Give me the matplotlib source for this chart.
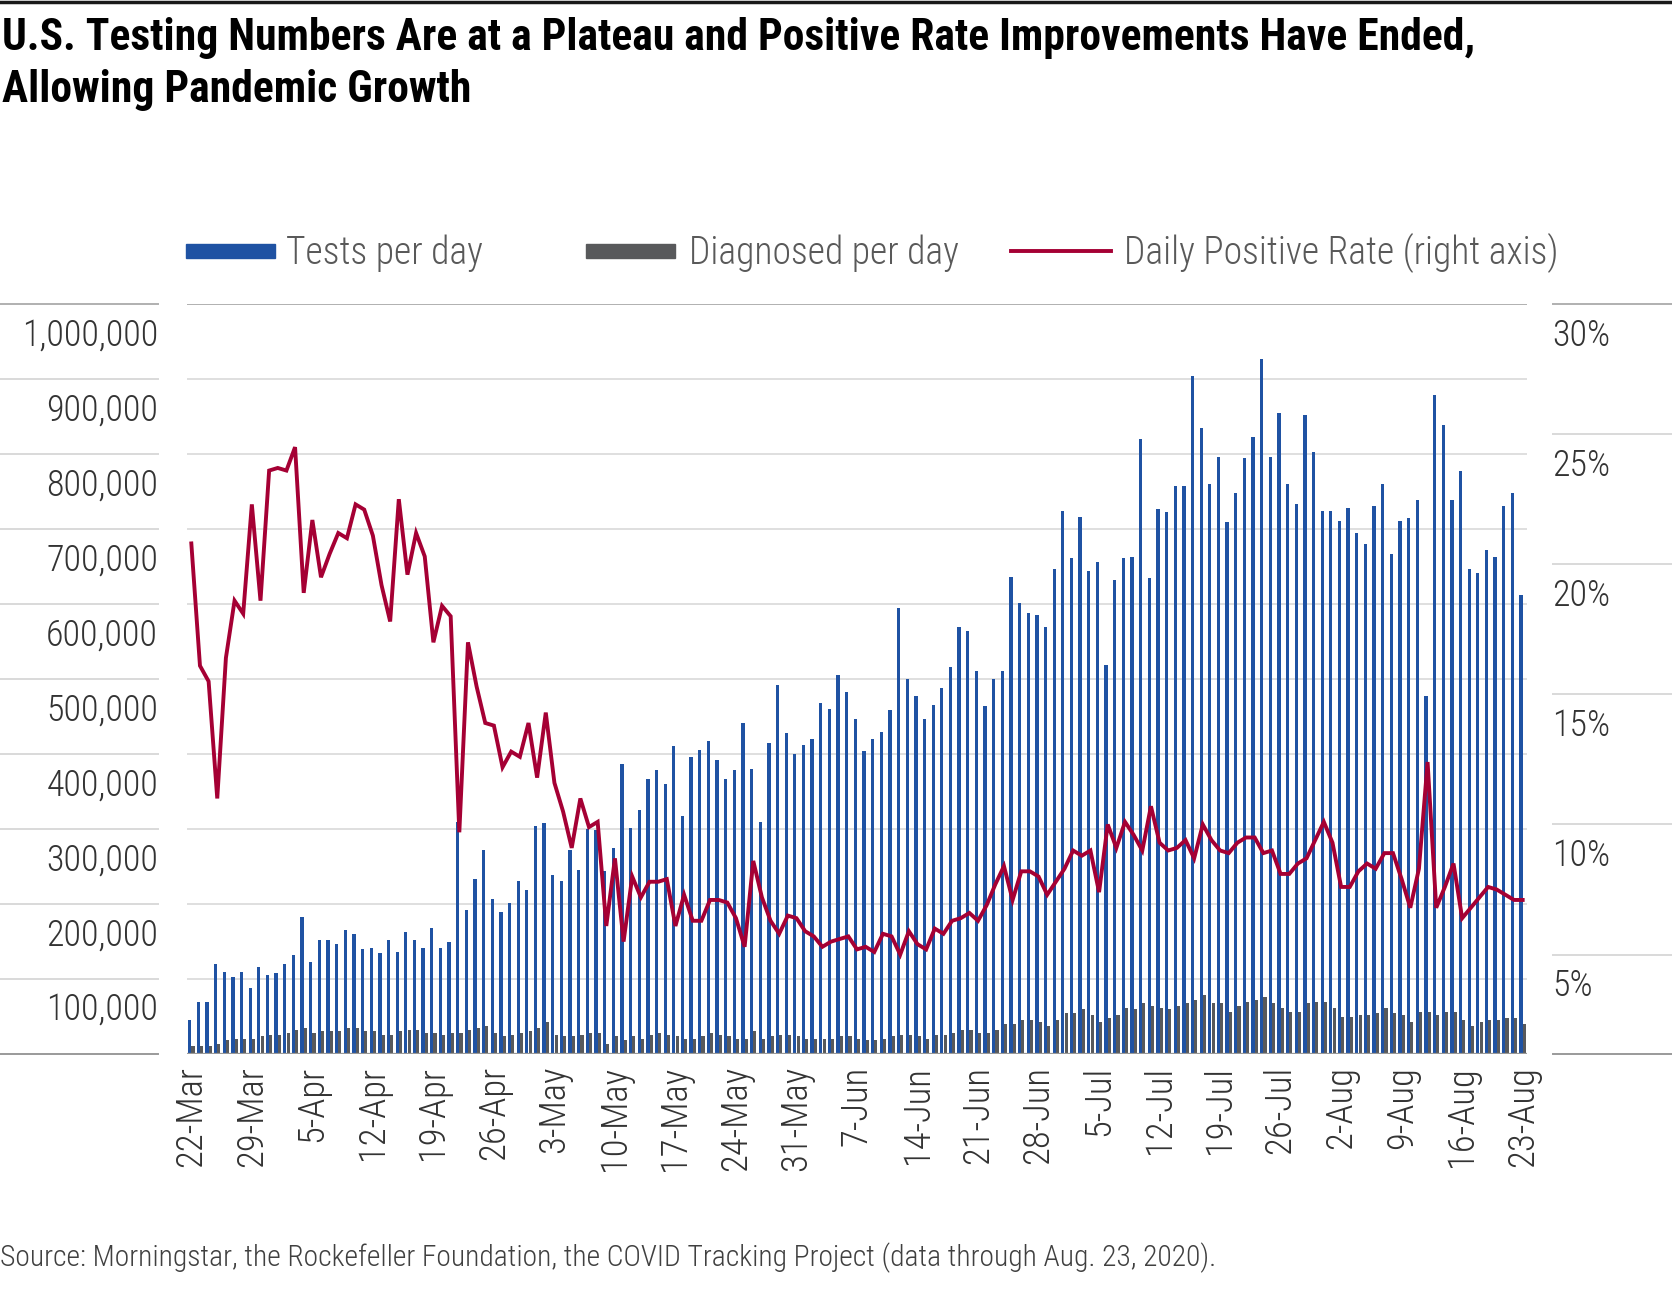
"""U.S. testing vs positive rate, 22-Mar to 23-Aug 2020 (daily bars + rate line)."""
import numpy as np
import matplotlib
matplotlib.use("Agg")
import matplotlib.pyplot as plt
from matplotlib import transforms, font_manager as fm
from matplotlib.patches import Rectangle
from matplotlib.lines import Line2D

# ---- data (tests / diagnosed in thousands per day, rate in %) ----
tests_k = [45, 69, 69, 120, 109, 102, 109, 88, 116, 105, 107, 120, 131, 182, 122, 151, 151, 146,
           165, 159, 139, 141, 134, 151, 136, 162, 151, 141, 167, 141, 149, 309, 192, 233, 272, 206,
           189, 201, 230, 218, 303, 307, 238, 230, 272, 245, 300, 298, 243, 274, 386, 301, 325, 366,
           378, 359, 410, 317, 395, 405, 417, 392, 366, 378, 441, 380, 309, 414, 492, 427, 400, 412,
           419, 468, 460, 505, 482, 446, 403, 419, 429, 458, 594, 499, 477, 446, 465, 487, 516, 569,
           564, 511, 463, 499, 511, 636, 601, 588, 585, 569, 647, 724, 661, 716, 644, 656, 518, 632,
           661, 663, 820, 634, 726, 722, 757, 757, 904, 835, 760, 796, 709, 748, 794, 823, 927, 796,
           854, 760, 733, 852, 803, 724, 724, 711, 728, 694, 680, 731, 760, 666, 711, 714, 738, 477,
           878, 838, 738, 777, 647, 641, 672, 663, 731, 748, 612]
diagnosed_k = [10, 10, 10, 13, 18, 20, 20, 20, 23, 25, 25, 28, 32, 34, 28, 30, 30, 30, 34, 34, 30,
               30, 25, 25, 30, 32, 32, 28, 28, 25, 28, 28, 32, 34, 37, 28, 23, 25, 28, 30, 34, 42,
               25, 23, 23, 25, 28, 28, 13, 23, 18, 23, 20, 25, 28, 25, 23, 20, 20, 23, 28, 25, 23,
               20, 20, 30, 20, 23, 25, 25, 23, 20, 20, 20, 20, 23, 23, 20, 18, 18, 20, 23, 25, 25,
               23, 20, 25, 25, 28, 32, 32, 28, 28, 32, 40, 40, 45, 45, 42, 37, 45, 54, 54, 59, 52,
               42, 47, 52, 61, 59, 67, 63, 61, 59, 63, 67, 71, 78, 67, 67, 56, 63, 69, 71, 76, 67,
               61, 56, 56, 67, 69, 69, 61, 49, 49, 52, 52, 54, 61, 54, 52, 42, 56, 56, 52, 56, 56,
               45, 37, 42, 45, 45, 47, 47, 40]
pos_rate = [20.8, 16.1, 15.5, 11.0, 16.4, 18.6, 18.1, 22.3, 18.6, 23.6, 23.7, 23.6, 24.5, 18.9,
            21.7, 19.5, 20.4, 21.2, 21.0, 22.3, 22.1, 21.1, 19.2, 17.8, 22.5, 19.6, 21.2, 20.3,
            17.0, 18.4, 18.0, 9.7, 17.0, 15.3, 13.9, 13.8, 12.2, 12.8, 12.6, 13.9, 11.8, 14.3,
            11.6, 10.5, 9.1, 11.0, 9.9, 10.1, 6.1, 8.7, 5.5, 8.0, 7.2, 7.8, 7.8, 7.9, 6.1, 7.3,
            6.3, 6.3, 7.1, 7.1, 7.0, 6.4, 5.3, 8.6, 7.2, 6.3, 5.8, 6.5, 6.4, 5.9, 5.7, 5.3, 5.5,
            5.6, 5.7, 5.2, 5.3, 5.1, 5.8, 5.7, 5.0, 5.9, 5.4, 5.2, 6.0, 5.8, 6.3, 6.4, 6.6, 6.3,
            6.9, 7.7, 8.4, 7.1, 8.2, 8.2, 8.0, 7.3, 7.8, 8.3, 9.0, 8.8, 9.0, 7.4, 10.0, 9.1, 10.1,
            9.6, 9.0, 10.7, 9.3, 9.0, 9.1, 9.4, 8.7, 10.0, 9.4, 9.0, 8.9, 9.3, 9.5, 9.5, 8.9, 9.0,
            8.1, 8.1, 8.5, 8.7, 9.4, 10.1, 9.3, 7.6, 7.6, 8.2, 8.5, 8.3, 8.9, 8.9, 7.9, 6.8, 8.3,
            12.4, 6.8, 7.6, 8.5, 6.4, 6.8, 7.2, 7.6, 7.5, 7.3, 7.1, 7.1]
week_labels = ["22-Mar", "29-Mar", "5-Apr", "12-Apr", "19-Apr", "26-Apr", "3-May", "10-May",
               "17-May", "24-May", "31-May", "7-Jun", "14-Jun", "21-Jun", "28-Jun", "5-Jul",
               "12-Jul", "19-Jul", "26-Jul", "2-Aug", "9-Aug", "16-Aug", "23-Aug"]
left_ticks_k = [100, 200, 300, 400, 500, 600, 700, 800, 900, 1000]
right_ticks = [5, 10, 15, 20, 25, 30]

TITLE1 = "U.S. Testing Numbers Are at a Plateau and Positive Rate Improvements Have Ended,"
TITLE2 = "Allowing Pandemic Growth"
SOURCE = ("Source: Morningstar, the Rockefeller Foundation, the COVID Tracking Project "
          "(data through Aug. 23, 2020).")
LEGEND = [(286, "Tests per day"), (689, "Diagnosed per day"),
          (1124, "Daily Positive Rate (right axis)")]

BLUE, GREY, RED = "#1f52a3", "#58595b", "#a50034"
GRID, AXIS, TOPLINE = "#d9d9d9", "#9a9a9a", "#b0b0b0"
W, H = 1672, 1304

# narrowest installed sans, the reference uses a condensed face
ttf = fm.fontManager.ttflist
names = {f.name for f in ttf}
STRETCH = "normal"
FONT = next((n for n in ["Liberation Sans Narrow", "Roboto Condensed", "DejaVu Sans Condensed",
                         "Open Sans Condensed"] if n in names), None)
if FONT is None:
    if any(f.name == "DejaVu Sans" and f.stretch == "condensed" for f in ttf):
        FONT, STRETCH = "DejaVu Sans", "condensed"
    else:
        FONT = next((n for n in ["Roboto", "Liberation Sans"] if n in names), "DejaVu Sans")
plt.rcParams["font.family"] = [FONT, "DejaVu Sans"]
plt.rcParams["font.stretch"] = STRETCH


def fx(px):
    return px / W


def fy(py):
    return 1 - py / H


fig = plt.figure(figsize=(W / 100, H / 100), dpi=100)
renderer = fig.canvas.get_renderer()


def fit_size(txt, target_px, weight="normal"):
    t = fig.text(0, 0, txt, fontsize=20, fontweight=weight)
    w = t.get_window_extent(renderer).width
    t.remove()
    return 20 * target_px / w


tick_fs = min(fit_size("1,000,000", 136, "light"), 30)
xtick_fs = min(fit_size("22-Mar", 101, "light"), 30)
leg_fs = min(fit_size(LEGEND[2][1], 433, "light"), 28)
title_fs = min(fit_size(TITLE1, 1469, "bold"), 32)
src_fs = min(fit_size(SOURCE, 1218, "light"), 22)

ax = fig.add_axes([fx(187), fy(1053.5), (1527 - 187) / W, (1053.5 - 304) / H])
ax2 = ax.twinx()

x = np.arange(len(tests_k))
ax.bar(x - 0.19, tests_k, width=0.38, color=BLUE, zorder=2, linewidth=0)
ax.bar(x + 0.19, diagnosed_k, width=0.36, color=GREY, zorder=2, linewidth=0)
ax.set_xlim(-0.5, len(x) - 0.5)
ax.set_ylim(0, 1000)
for v in left_ticks_k[:-1]:
    ax.axhline(v, color=GRID, lw=1.2, zorder=0)
ax.axhline(1000, color=TOPLINE, lw=1.4, zorder=0)
ax.axhline(0, color=AXIS, lw=1.6, zorder=3)

ax2.plot(x, pos_rate, color=RED, lw=2.8, solid_joinstyle="miter", zorder=4)
ax2.set_ylim(1.2, 30)

for a in (ax, ax2):
    for s in a.spines.values():
        s.set_visible(False)
    a.set_yticks([])
ax.set_xticks(np.arange(0, len(x), 7))
ax.set_xticklabels(week_labels, rotation=90, fontsize=xtick_fs, color="#333333",
                   fontweight="light")
ax.tick_params(axis="x", length=0, pad=9)

# value labels sit just under short rules drawn in the margins
shift = transforms.ScaledTranslation(0, -0.315, fig.dpi_scale_trans)
tl = transforms.blended_transform_factory(fig.transFigure, ax.transData)
for v in [0] + left_ticks_k:
    ax.plot([0, fx(158)], [v, v], transform=tl, clip_on=False,
            color=AXIS if v == 0 else (TOPLINE if v == 1000 else GRID), lw=1.4)
for v in left_ticks_k:
    ax.text(fx(158), v, f"{v * 1000:,}", transform=tl + shift, ha="right", va="center",
            fontsize=tick_fs, color="#333333", fontweight="light")

tr = transforms.blended_transform_factory(fig.transFigure, ax2.transData)
for v in [1.2] + right_ticks:
    ax2.plot([fx(1553), 1], [v, v], transform=tr, clip_on=False,
             color=AXIS if v == 1.2 else (TOPLINE if v == 30 else GRID), lw=1.4)
for v in right_ticks:
    ax2.text(fx(1552), v, f"{v}%", transform=tr + shift, ha="left", va="center",
             fontsize=tick_fs, color="#333333", fontweight="light")

# legend
fig.add_artist(Rectangle((fx(186), fy(258)), 89 / W, 14 / H, color=BLUE, transform=fig.transFigure))
fig.add_artist(Rectangle((fx(586), fy(258)), 89 / W, 14 / H, color=GREY, transform=fig.transFigure))
fig.add_artist(Line2D([fx(1011), fx(1111)], [fy(251)] * 2, color=RED, lw=2.8))
for px, txt in LEGEND:
    fig.text(fx(px), fy(264), txt, fontsize=leg_fs, color="#595959", va="baseline",
             fontweight="light")

# title, top rule, source
fig.add_artist(Line2D([0, 1], [fy(1.5)] * 2, color="#1a1a1a", lw=2.5))
fig.text(0.001, fy(50), TITLE1, fontsize=title_fs, fontweight="bold", color="black", va="baseline")
fig.text(0.001, fy(102), TITLE2, fontsize=title_fs, fontweight="bold", color="black", va="baseline")
fig.text(0.0, fy(1266), SOURCE, fontsize=src_fs, color="#404040", va="baseline", fontweight="light")

fig.savefig("out.png", dpi=100)
